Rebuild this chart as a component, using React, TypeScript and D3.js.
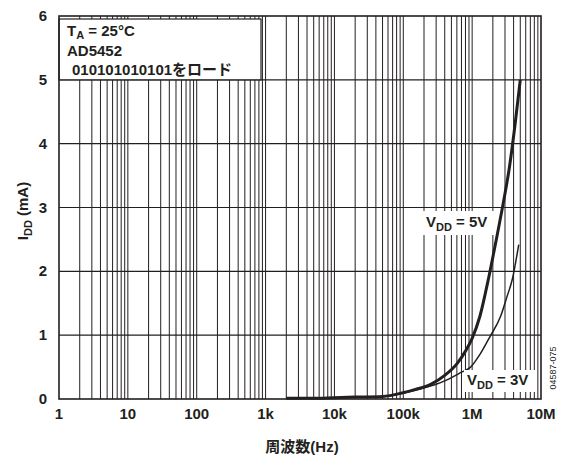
import React from "react";
import * as d3 from "d3";

const freqs5V = [2e3, 5e3, 1e4, 2e4, 5e4, 1e5, 1.5e5, 2.5e5, 4e5, 6e5, 8e5, 1e6, 1.3e6, 1.7e6, 2.2e6, 2.7e6, 3.5e6, 4.2e6, 5e6];
const idd5V = [0.01, 0.01, 0.02, 0.03, 0.04, 0.1, 0.15, 0.23, 0.37, 0.55, 0.75, 0.95, 1.3, 1.85, 2.45, 2.95, 3.65, 4.3, 5.0];
const freqs3V = [2e3, 5e3, 1e4, 2e4, 5e4, 1e5, 1.8e5, 3e5, 4.3e5, 7e5, 9.5e5, 1.3e6, 1.8e6, 2.6e6, 3.2e6, 3.8e6, 4.75e6];
const idd3V = [0.01, 0.01, 0.02, 0.03, 0.04, 0.09, 0.16, 0.23, 0.3, 0.42, 0.5, 0.7, 0.97, 1.3, 1.6, 1.86, 2.42];
const xTickValues = [1, 10, 100, 1e3, 1e4, 1e5, 1e6, 1e7];
const xTickLabels = ["1", "10", "100", "1k", "10k", "100k", "1M", "10M"];
const yTickValues = [0, 1, 2, 3, 4, 5, 6];

const W = 566;
const H = 457;
const FONT = "'Liberation Sans', Arial, 'Noto Sans CJK JP', sans-serif";
const JFONT = "'Liberation Sans', 'Noto Sans CJK JP', sans-serif";
const INK = "#231f20";

export default function App() {
  const x = d3.scaleLog().domain([1, 1e7]).range([59, 541]);
  const y = d3.scaleLinear().domain([0, 6]).range([399, 16]);

  const minor: number[] = [];
  for (let d = 0; d < 7; d++) {
    for (let m = 1; m <= 9; m++) {
      const f = m * Math.pow(10, d);
      if (f > 1 && f < 1e7) minor.push(f);
    }
  }

  const line = d3
    .line<[number, number]>()
    .x((d) => x(d[0]))
    .y((d) => y(d[1]))
    .curve(d3.curveMonotoneX);

  const d5 = line(freqs5V.map((f, i) => [f, idd5V[i]] as [number, number])) || "";
  const d3v = line(freqs3V.map((f, i) => [f, idd3V[i]] as [number, number])) || "";

  const [x0, x1] = x.range();
  const [y0, y1] = y.range();

  return (
    <svg width={W} height={H} style={{ position: "absolute", left: 0, top: 0 }}>
      <rect x={0} y={0} width={W} height={H} fill="#fff" />
      {minor.map((f) => (
        <line key={"v" + f} x1={x(f)} x2={x(f)} y1={y0} y2={y1} stroke={INK} strokeWidth={1} />
      ))}
      {yTickValues.slice(1, -1).map((v) => (
        <line key={"h" + v} x1={x0} x2={x1} y1={y(v)} y2={y(v)} stroke={INK} strokeWidth={1.2} />
      ))}
      {/* legend box */}
      <rect x={x0} y={19} width={261 - x0} height={y(5) - 19} fill="#fff" stroke={INK} strokeWidth={1.2} />
      <text x={67} y={36} fontFamily={FONT} fontWeight="bold" fontSize={15} fill={INK}>
        T<tspan fontSize={11} dy={3}>A</tspan>
        <tspan dy={-3}> = 25°C</tspan>
      </text>
      <text x={67} y={56} fontFamily={FONT} fontWeight="bold" fontSize={15} fill={INK}>
        AD5452
      </text>
      <text x={72} y={75} fontFamily={JFONT} fontWeight="bold" fontSize={15} fill={INK}>
        010101010101をロード
      </text>
      {/* curves */}
      <path d={d3v} fill="none" stroke={INK} strokeWidth={1.5} />
      <path d={d5} fill="none" stroke={INK} strokeWidth={3} />
      {/* frame */}
      <rect x={x0} y={y1} width={x1 - x0} height={y0 - y1} fill="none" stroke={INK} strokeWidth={1.6} />
      {/* series labels */}
      <rect x={423} y={211} width={72} height={24} fill="#fff" />
      <text x={426} y={227} fontFamily={FONT} fontWeight="bold" fontSize={15} fill={INK}>
        V<tspan fontSize={11} dy={4}>DD</tspan>
        <tspan dy={-4}> = 5V</tspan>
      </text>
      <rect x={464} y={370} width={72} height={22} fill="#fff" />
      <text x={467} y={385} fontFamily={FONT} fontWeight="bold" fontSize={15} fill={INK}>
        V<tspan fontSize={11} dy={4}>DD</tspan>
        <tspan dy={-4}> = 3V</tspan>
      </text>
      {/* x ticks */}
      {xTickValues.map((v, i) => (
        <text key={"xt" + v} x={x(v)} y={419} textAnchor="middle" fontFamily={FONT} fontWeight="bold" fontSize={15} fill={INK}>
          {xTickLabels[i]}
        </text>
      ))}
      {/* y ticks */}
      {yTickValues.map((v) => (
        <text key={"yt" + v} x={47} y={y(v) + 5} textAnchor="end" fontFamily={FONT} fontWeight="bold" fontSize={15} fill={INK}>
          {v}
        </text>
      ))}
      {/* axis titles */}
      <text x={302} y={452} textAnchor="middle" fontFamily={JFONT} fontWeight="bold" fontSize={15} fill={INK}>
        周波数(Hz)
      </text>
      <text transform="translate(28,211) rotate(-90)" textAnchor="middle" fontFamily={FONT} fontWeight="bold" fontSize={15} fill={INK}>
        I<tspan fontSize={11} dy={4}>DD</tspan>
        <tspan dy={-4}> (mA)</tspan>
      </text>
      <text transform="translate(556,368) rotate(-90)" textAnchor="middle" fontFamily={FONT} fontSize={9} fill={INK}>
        04587-075
      </text>
    </svg>
  );
}
